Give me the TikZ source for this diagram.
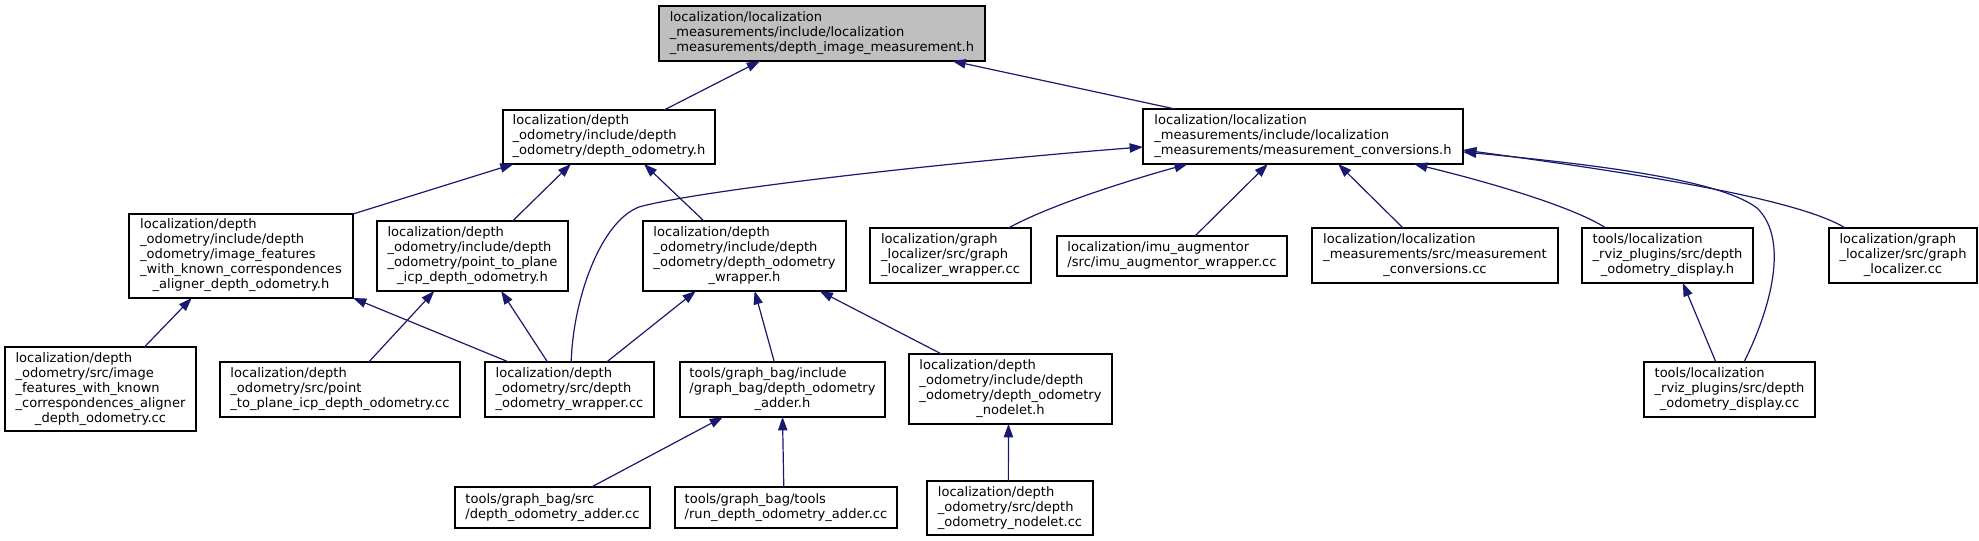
\documentclass[tikz,border=0pt]{standalone}
\usepackage{fontspec}
\setmainfont{DejaVu Sans}
\usetikzlibrary{arrows.meta,calc}
\definecolor{edgeblue}{HTML}{191970}
\definecolor{topgray}{HTML}{BFBFBF}
\newcommand\lastln[1]{\multicolumn{1}{@{}c@{}}{#1}}
\newcommand\bx[7][]{\node[nbox,#1,minimum width={(#5-#3)*0.75},minimum height={(#6-#4)*0.75}] (#2) at ({(#3+#5)/2},{(#4+#6)/2}) {\begin{tabular}{@{}l@{}}#7\end{tabular}};}
\newcommand\edg[4]{\draw[lnk] ($(#1.north west)!#2!(#1.north east)$) -- ($(#3.south west)!#4!(#3.south east)$);}
\tikzset{
  nbox/.style={draw=black, fill=white, line width=1pt, inner sep=0pt, outer sep=0pt,
    font=\fontsize{9.8}{11.25}\selectfont},
  topbox/.style={fill=topgray, line width=1.2pt},
  lnk/.style={draw=edgeblue, line width=0.9pt, -{Triangle[length=10pt,width=7pt]}}
}
\begin{document}
\begin{tikzpicture}[x=0.75pt,y=-0.75pt]
\fill[white] (0,0) rectangle (1979,541);
\useasboundingbox (0,0) rectangle (1979,541);
% nodes
\bx[topbox]{top}{659}{6}{985}{61}{localization/localization\\ \_measurements/include/localization\\ \lastln{\_measurements/depth\_image\_measurement.h}}
\bx{dO}{503}{110}{715}{164}{localization/depth\\ \_odometry/include/depth\\ \lastln{\_odometry/depth\_odometry.h}}
\bx{mc}{1143}{109}{1463}{164}{localization/localization\\ \_measurements/include/localization\\ \lastln{\_measurements/measurement\_conversions.h}}
\bx{imfh}{129}{214}{353}{298}{localization/depth\\ \_odometry/include/depth\\ \_odometry/image\_features\\ \_with\_known\_correspondences\\ \lastln{\_aligner\_depth\_odometry.h}}
\bx{ptph}{377}{221}{568}{291}{localization/depth\\ \_odometry/include/depth\\ \_odometry/point\_to\_plane\\ \lastln{\_icp\_depth\_odometry.h}}
\bx{wrh}{643}{221}{846}{291}{localization/depth\\ \_odometry/include/depth\\ \_odometry/depth\_odometry\\ \lastln{\_wrapper.h}}
\bx{glw}{870}{228}{1031}{283}{localization/graph\\ \_localizer/src/graph\\ \lastln{\_localizer\_wrapper.cc}}
\bx{imu}{1057}{236}{1287}{276}{localization/imu\_augmentor\\ \lastln{/src/imu\_augmentor\_wrapper.cc}}
\bx{mcc}{1312}{228}{1558}{283}{localization/localization\\ \_measurements/src/measurement\\ \lastln{\_conversions.cc}}
\bx{ddh}{1582}{228}{1753}{283}{tools/localization\\ \_rviz\_plugins/src/depth\\ \lastln{\_odometry\_display.h}}
\bx{gl}{1829}{228}{1977}{283}{localization/graph\\ \_localizer/src/graph\\ \lastln{\_localizer.cc}}
\bx{imfcc}{5}{347}{196}{431}{localization/depth\\ \_odometry/src/image\\ \_features\_with\_known\\ \_correspondences\_aligner\\ \lastln{\_depth\_odometry.cc}}
\bx{ptpcc}{220}{362}{460}{417}{localization/depth\\ \_odometry/src/point\\ \lastln{\_to\_plane\_icp\_depth\_odometry.cc}}
\bx{wrcc}{485}{362}{654}{417}{localization/depth\\ \_odometry/src/depth\\ \lastln{\_odometry\_wrapper.cc}}
\bx{addh}{680}{362}{885}{417}{tools/graph\_bag/include\\ /graph\_bag/depth\_odometry\\ \lastln{\_adder.h}}
\bx{nodh}{909}{354}{1112}{424}{localization/depth\\ \_odometry/include/depth\\ \_odometry/depth\_odometry\\ \lastln{\_nodelet.h}}
\bx{ddcc}{1644}{362}{1815}{417}{tools/localization\\ \_rviz\_plugins/src/depth\\ \lastln{\_odometry\_display.cc}}
\bx{addcc}{455}{487}{650}{528}{tools/graph\_bag/src\\ \lastln{/depth\_odometry\_adder.cc}}
\bx{runcc}{675}{487}{897}{528}{tools/graph\_bag/tools\\ \lastln{/run\_depth\_odometry\_adder.cc}}
\bx{nodcc}{927}{481}{1093}{535}{localization/depth\\ \_odometry/src/depth\\ \lastln{\_odometry\_nodelet.cc}}
% straight edges (child -> parent)
\edg{dO}{0.76}{top}{0.31}
\edg{mc}{0.10}{top}{0.90}
\edg{imfh}{1.0}{dO}{0.05}
\edg{ptph}{0.71}{dO}{0.32}
\edg{wrh}{0.30}{dO}{0.665}
\edg{imu}{0.60}{mc}{0.39}
\edg{mcc}{0.37}{mc}{0.61}
\edg{imfcc}{0.73}{imfh}{0.28}
\edg{wrcc}{0.14}{imfh}{1.0}
\edg{ptpcc}{0.62}{ptph}{0.30}
\edg{wrcc}{0.37}{ptph}{0.65}
\edg{wrcc}{0.72}{wrh}{0.26}
\edg{addh}{0.46}{wrh}{0.55}
\edg{nodh}{0.16}{wrh}{0.87}
\edg{addcc}{0.70}{addh}{0.21}
\edg{runcc}{0.49}{addh}{0.50}
\edg{nodcc}{0.49}{nodh}{0.49}
\edg{ddcc}{0.42}{ddh}{0.59}
% curved edges
\draw[lnk] ($(wrcc.north west)!0.51!(wrcc.north east)$) .. controls (573,300) and (600,222) .. (639,207)
  .. controls (700,190) and (950,162) .. ($(mc.north west)!0.69!(mc.south west)$);
\draw[lnk] ($(glw.north west)!0.86!(glw.north east)$) .. controls (1050,205) and (1130,180) .. ($(mc.south west)!0.14!(mc.south east)$);
\draw[lnk] ($(ddh.north west)!0.14!(ddh.north east)$) .. controls (1570,205) and (1480,180) .. ($(mc.south west)!0.847!(mc.south east)$);
\draw[lnk] ($(ddcc.north west)!0.585!(ddcc.north east)$) .. controls (1770,310) and (1790,240) .. (1757,208)
  .. controls (1720,180) and (1600,165) .. ($(mc.north east)!0.78!(mc.south east)$);
\draw[lnk] ($(gl.north west)!0.11!(gl.north east)$) .. controls (1800,200) and (1650,175) .. ($(mc.north east)!0.745!(mc.south east)$);
\end{tikzpicture}
\end{document}
